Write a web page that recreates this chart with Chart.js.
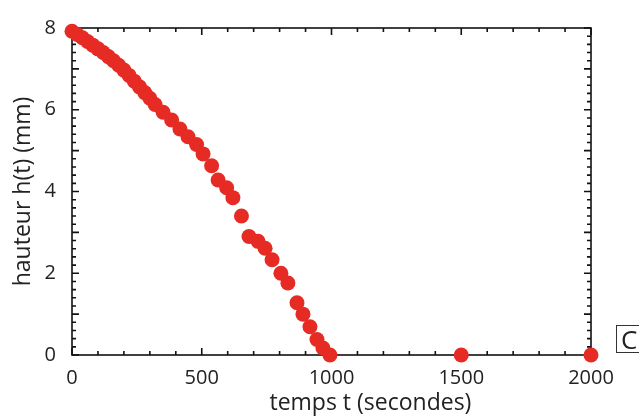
<!DOCTYPE html>
<html>
<head>
<meta charset="utf-8">
<script src="https://cdn.jsdelivr.net/npm/chart.js@4"></script>
<style>
    html, body { margin: 0; padding: 0; background: #fff; }
    #wrap { position: relative; width: 639px; height: 416px; overflow: hidden; }
    #label-c {
        position: absolute; left: 616px; top: 325px; width: 40px; height: 28px;
        border: 1px solid #333; box-sizing: border-box;
        font-family: 'Open Sans', sans-serif; font-size: 26px; line-height: 27px;
        padding-left: 4px; color: #222;
    }
</style>
</head>
<body>
<div id="wrap">
    <canvas id="chart" width="639" height="416"></canvas>
    <div id="label-c">C</div>
</div>
<script>
// temps t (s) et hauteur h(t) (mm)
const temps = [0, 20, 40, 60, 80, 100, 120, 140, 160, 180, 200, 220, 240, 260, 280, 300, 320,
    351, 384, 416, 447, 480, 505, 538, 563, 596, 620, 653, 682, 717, 744, 771, 805, 832,
    867, 890, 917, 944, 967, 994, 1500, 2000];
const hauteur = [7.92, 7.84, 7.76, 7.67, 7.58, 7.49, 7.40, 7.30, 7.20, 7.09, 6.97, 6.84, 6.70,
    6.56, 6.42, 6.28, 6.13, 5.94, 5.75, 5.53, 5.34, 5.15, 4.92, 4.63, 4.28, 4.09, 3.85, 3.40,
    2.90, 2.78, 2.61, 2.33, 2.00, 1.76, 1.28, 1.00, 0.69, 0.38, 0.17, 0, 0, 0];
const xTicks = [0, 500, 1000, 1500, 2000];
const yTicks = [0, 2, 4, 6, 8];

const FONT = '"Open Sans", Lato, sans-serif';

// box around the plot with inward ticks
const framePlugin = {
    id: 'frame',
    beforeDatasetsDraw(chart) {
        const { ctx, chartArea: a, scales: { x, y } } = chart;
        ctx.save();
        ctx.strokeStyle = '#111';
        ctx.lineWidth = 1.6;
        ctx.strokeRect(a.left, a.top, a.right - a.left, a.bottom - a.top);
        ctx.beginPath();
        for (let t = 0; t <= 2000; t += 100) {
            const px = x.getPixelForValue(t);
            const len = t % 500 === 0 ? 7 : 4;
            ctx.moveTo(px, a.bottom); ctx.lineTo(px, a.bottom - len);
            ctx.moveTo(px, a.top); ctx.lineTo(px, a.top + len);
        }
        for (let i = 0; i <= 40; i++) {
            const py = y.getPixelForValue(i * 0.2);
            const len = i % 5 === 0 ? 7 : 4;
            ctx.moveTo(a.left, py); ctx.lineTo(a.left + len, py);
            ctx.moveTo(a.right, py); ctx.lineTo(a.right - len, py);
        }
        ctx.stroke();
        ctx.restore();
    },
    // x axis title sits right of the plot centre in the original figure
    afterDraw(chart) {
        const { ctx, scales: { x } } = chart;
        ctx.save();
        ctx.font = '23px ' + FONT;
        ctx.fillStyle = '#222';
        ctx.textAlign = 'center';
        ctx.textBaseline = 'alphabetic';
        ctx.fillText('temps t (secondes)', x.getPixelForValue(1150), 410);
        ctx.restore();
    }
};

new Chart(document.getElementById('chart'), {
    type: 'scatter',
    data: {
        datasets: [{
            data: temps.map((t, i) => ({ x: t, y: hauteur[i] })),
            backgroundColor: '#e62b25',
            borderWidth: 0,
            pointRadius: 7.5,
            pointHoverRadius: 7.5,
            clip: false
        }]
    },
    options: {
        responsive: false,
        animation: false,
        events: [],
        layout: { padding: { top: 18, right: 48, left: 0, bottom: 0 } },
        plugins: { legend: { display: false }, tooltip: { enabled: false } },
        scales: {
            x: {
                type: 'linear',
                min: 0,
                max: 2000,
                afterFit: s => { s.height = 61; },
                afterBuildTicks: s => { s.ticks = xTicks.map(v => ({ value: v })); },
                grid: { display: false, drawTicks: false },
                border: { display: false },
                ticks: {
                    font: { family: FONT, size: 20 }, color: '#222', padding: 11, maxRotation: 0,
                    callback: v => String(v)
                },
                title: { display: false }
            },
            y: {
                type: 'linear',
                min: 0,
                max: 8,
                afterFit: s => { s.width = 72; },
                afterBuildTicks: s => { s.ticks = yTicks.map(v => ({ value: v })); },
                grid: { display: false, drawTicks: false },
                border: { display: false },
                ticks: {
                    font: { family: FONT, size: 20 }, color: '#222', padding: 16,
                    callback: v => String(v)
                },
                title: {
                    display: true,
                    text: 'hauteur h(t) (mm)',
                    font: { family: FONT, size: 23 },
                    color: '#222',
                    padding: { top: 10, bottom: 0 }
                }
            }
        }
    },
    plugins: [framePlugin]
});
</script>
</body>
</html>
